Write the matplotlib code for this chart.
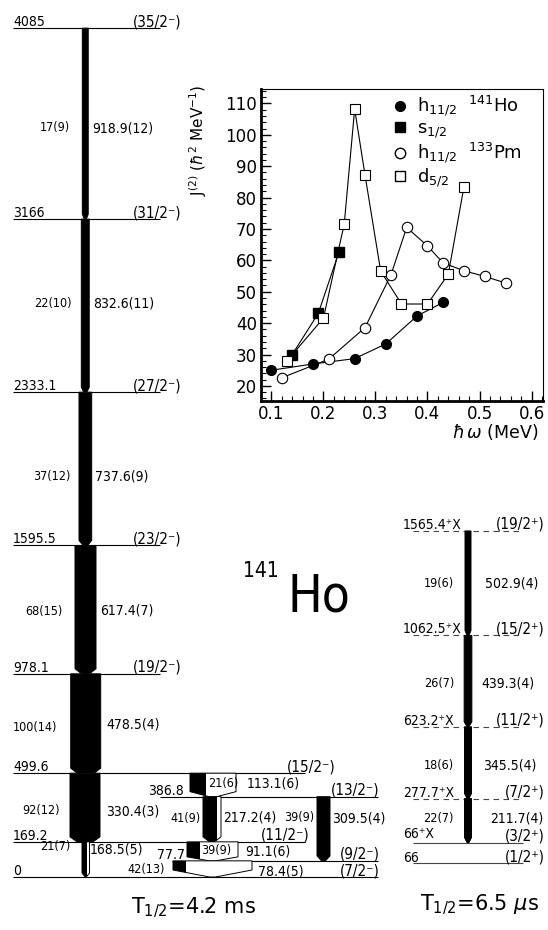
import matplotlib
matplotlib.use('Agg')
import matplotlib.pyplot as plt
from matplotlib.patches import Polygon, Rectangle
from matplotlib.lines import Line2D
from matplotlib.ticker import MultipleLocator

plt.rcParams['font.family'] = ['DejaVu Sans']

# ---- level scheme of 141Ho (keV) ----
lev_e = [0, 77.7, 169.2, 386.8, 499.6, 978.1, 1595.5, 2333.1, 3166, 4085]
lev_lbl = ['0', '77.7', '169.2', '386.8', '499.6', '978.1', '1595.5', '2333.1', '3166', '4085']
lev_spin = ['(7/2⁻)', '(9/2⁻)', '(11/2⁻)', '(13/2⁻)', '(15/2⁻)', '(19/2⁻)',
            '(23/2⁻)', '(27/2⁻)', '(31/2⁻)', '(35/2⁻)']

g_from = [4085, 3166, 2333.1, 1595.5, 978.1, 499.6, 169.2, 499.6, 386.8, 386.8, 169.2, 77.7]
g_to = [3166, 2333.1, 1595.5, 978.1, 499.6, 169.2, 0, 386.8, 169.2, 77.7, 77.7, 0]
g_lbl = ['918.9(12)', '832.6(11)', '737.6(9)', '617.4(7)', '478.5(4)', '330.4(3)',
         '168.5(5)', '113.1(6)', '217.2(4)', '309.5(4)', '91.1(6)', '78.4(5)']
g_int = ['17(9)', '22(10)', '37(12)', '68(15)', '100(14)', '92(12)',
         '21(7)', '21(6)', '41(9)', '39(9)', '39(9)', '42(13)']

# ---- band built on the 66 keV isomer (energies relative to 66+X) ----
band_e = [0, 211.7, 557.2, 996.5, 1499.4]
band_lbl = ['66⁺X', '277.7⁺X', '623.2⁺X', '1062.5⁺X', '1565.4⁺X']
band_spin = ['(3/2⁺)', '(7/2⁺)', '(11/2⁺)', '(15/2⁺)', '(19/2⁺)']
band_g = ['211.7(4)', '345.5(4)', '439.3(4)', '502.9(4)']
band_int = ['22(7)', '18(6)', '26(7)', '19(6)']
iso_e = 66

# ---- inset: J(2) vs hbar omega ----
hw_ho_h = [0.10, 0.18, 0.26, 0.32, 0.38, 0.43]
j2_ho_h = [25.0, 27.0, 28.7, 33.4, 42.3, 46.6]
hw_ho_s = [0.14, 0.19, 0.23]
j2_ho_s = [30.0, 43.1, 62.7]
hw_pm_h = [0.12, 0.21, 0.28, 0.33, 0.36, 0.40, 0.43, 0.47, 0.51, 0.55]
j2_pm_h = [22.6, 28.5, 38.6, 55.5, 70.5, 64.6, 59.2, 56.7, 54.9, 52.8]
hw_pm_d = [0.13, 0.20, 0.24, 0.26, 0.28, 0.31, 0.35, 0.40, 0.44, 0.47]
j2_pm_d = [28.0, 41.6, 71.6, 108.2, 87.1, 56.6, 46.1, 46.1, 55.6, 83.4]

PX = 0.2078   # pixels per keV
Y0 = 877      # pixel row of ground state
XOFF = 100    # drawing offset used for the unknown X


def ky(ypx):
    return (Y0 - ypx) / PX


def kh(hpx):
    return hpx / PX


def arrow(ax, xl, wb, ww, e_top, e_bot, tip_h, tip_w):
    xr = xl + wb + ww
    xc = (xl + xr) / 2
    verts = [(xl, e_top), (xr, e_top), (xr, e_bot + kh(tip_h)),
             (xc + tip_w / 2, e_bot), (xc - tip_w / 2, e_bot), (xl, e_bot + kh(tip_h))]
    poly = Polygon(verts, closed=True, facecolor='white', edgecolor='black', lw=0.7, zorder=3)
    ax.add_patch(poly)
    blk = Rectangle((xl - 1, e_bot), wb + 1, e_top - e_bot, facecolor='black',
                    edgecolor='none', zorder=4)
    ax.add_patch(blk)
    blk.set_clip_path(poly)


fig = plt.figure(figsize=(5.48, 9.30), dpi=100)
ax = fig.add_axes([0, 0, 1, 1])
ax.set_xlim(0, 548)
ax.set_ylim(ky(930), ky(0))
ax.axis('off')

fs_lev = 10
fs_spin = 11
fs_int = 9
cond = dict(fontstretch='condensed')

# level lines and labels
lev_x0 = [13, 172, 13, 160, 13, 13, 13, 13, 13, 13]
lev_x1 = [378, 378, 305, 378, 305, 160, 160, 160, 160, 160]
lev_tx = [13, 157, 13, 148, 13, 13, 13, 13, 13, 13]
spin_tx = [380, 380, 310, 380, 336, 182, 182, 182, 182, 182]
for i, e in enumerate(lev_e):
    ax.hlines(e, lev_x0[i], lev_x1[i], color='black', lw=0.8, zorder=2)
    ax.text(lev_tx[i], e + kh(2), lev_lbl[i], fontsize=fs_lev, ha='left', va='baseline', **cond)
    ax.text(spin_tx[i], e + kh(2), lev_spin[i], fontsize=fs_spin, ha='right', va='baseline', **cond)

# transitions: (left x, black width, white width, tip height, tip width)
shape = [(82.3, 6, 0, 5, 2), (81.3, 8, 0, 5, 3), (79, 12.7, 0, 5, 4.5),
         (75, 21, 0, 5, 8), (70.7, 30, 0, 5, 17), (70, 30, 0, 5, 16),
         (82, 5, 2.5, 4, 1), (190, 16, 30, 5, 8), (203, 14, 4, 5, 5),
         (317, 13, 0, 5, 4), (187, 13, 38, 4, 6), (173, 13, 66, 7, 6)]
int_pos = [(70, 128, 'right'), (72, 303, 'right'), (70, 476, 'right'), (63, 612, 'right'),
           (57, 727, 'right'), (60, 810, 'right'), (70, 846, 'right'), (208, 783, 'left'),
           (201, 818, 'right'), (314, 817, 'right'), (201, 850, 'left'), (165, 869, 'right')]
lbl_pos = [(92, 128), (93, 303), (95, 476), (100, 611), (106, 724), (106, 811),
           (90, 849), (247, 783), (223, 817), (332, 818), (245, 851), (258, 871)]
for i in range(len(g_lbl)):
    xl, wb, ww, th, tw = shape[i]
    arrow(ax, xl, wb, ww, g_from[i], g_to[i], th, tw)
    xi, yi, hi = int_pos[i]
    ax.text(xi, ky(yi), g_int[i], fontsize=fs_int, ha=hi, va='center', zorder=6, **cond)
    xg, yg = lbl_pos[i]
    ax.text(xg, ky(yg), g_lbl[i], fontsize=fs_lev, ha='left', va='center', zorder=6, **cond)

# isomer band
ax.hlines(iso_e, 413, 523, color='#444444', lw=0.8)
ax.text(403, iso_e + kh(1), '66', fontsize=fs_lev, ha='left', va='baseline', **cond)
ax.text(545, iso_e + kh(2), '(1/2⁺)', fontsize=fs_spin, ha='right', va='baseline', **cond)
for i, e in enumerate(band_e):
    ee = iso_e + XOFF + e
    ax.hlines(ee, 413, 523, color='#444444', lw=0.8, linestyles='solid' if i == 0 else (0, (5, 4)))
    ax.text(403, ee + kh(5 if i == 0 else 2), band_lbl[i], fontsize=fs_lev, ha='left', va='baseline', **cond)
    ax.text(545, ee + kh(2), band_spin[i], fontsize=fs_spin, ha='right', va='baseline', **cond)

band_w = [7, 7, 7.7, 6]
band_int_y = [818, 765, 683, 583]
band_g_x = [490, 483, 481, 485]
for i in range(len(band_g)):
    e_bot = iso_e + XOFF + band_e[i]
    e_top = iso_e + XOFF + band_e[i + 1]
    arrow(ax, 468 - band_w[i] / 2, band_w[i], 0, e_top, e_bot, 5, 2)
    ax.text(454, ky(band_int_y[i]), band_int[i], fontsize=fs_int, ha='right', va='center', zorder=6, **cond)
    ax.text(band_g_x[i], ky(band_int_y[i]), band_g[i], fontsize=fs_lev, ha='left', va='center', zorder=6, **cond)

ax.text(193, ky(913), r'T$_{1/2}$=4.2 ms', fontsize=15, ha='center', va='baseline')
ax.text(480, ky(910), r'T$_{1/2}$=6.5 $\mu$s', fontsize=15, ha='center', va='baseline')
ax.text(243, ky(577), '141', fontsize=15, ha='left', va='baseline', **cond)
ax.text(287, ky(612), 'Ho', fontsize=37, ha='left', va='baseline', **cond)

# ---- inset ----
axi = fig.add_axes([261 / 548, 1 - 401 / 930, 282 / 548, 312 / 930])
lw = 0.8
axi.plot(hw_ho_h, j2_ho_h, color='black', lw=lw, marker='o', ms=7, mfc='black', mec='black', zorder=3)
axi.plot(hw_ho_s, j2_ho_s, color='black', lw=lw, marker='s', ms=7, mfc='black', mec='black', zorder=3)
axi.plot(hw_pm_h, j2_pm_h, color='black', lw=lw, marker='o', ms=7.5, mfc='white', mec='black', mew=0.8, zorder=3)
axi.plot(hw_pm_d, j2_pm_d, color='black', lw=lw, marker='s', ms=7, mfc='white', mec='black', mew=0.8, zorder=3)
axi.set_xlim(0.08, 0.622)
axi.set_ylim(15.2, 114.6)
axi.set_xticks([0.1, 0.2, 0.3, 0.4, 0.5, 0.6], ['0.1', '0.2', '0.3', '0.4', '0.5', '0.6'])
axi.set_yticks(range(20, 111, 10))
axi.xaxis.set_minor_locator(MultipleLocator(0.02))
axi.yaxis.set_minor_locator(MultipleLocator(2))
axi.tick_params(which='both', direction='in', top=False, right=False, labelsize=12, pad=3)
axi.tick_params(which='major', length=7, width=1)
axi.tick_params(which='minor', length=3.5, width=0.8)
axi.spines['left'].set_linewidth(2)
axi.spines['bottom'].set_linewidth(2)
axi.spines['top'].set_linewidth(0.8)
axi.spines['right'].set_linewidth(0.8)
axi.text(-0.222, 0.835, r'J$^{(2)}$ ($\hbar^2$ MeV$^{-1}$)', transform=axi.transAxes,
         rotation=90, ha='center', va='center', fontsize=11)
axi.text(0.985, -0.1, r'$\hbar\,\omega$ (MeV)', transform=axi.transAxes,
         ha='right', va='center', fontsize=12.5)

handles = [
    Line2D([], [], ls='none', marker='o', ms=7, mfc='black', mec='black'),
    Line2D([], [], ls='none', marker='s', ms=7, mfc='black', mec='black'),
    Line2D([], [], ls='none', marker='o', ms=7.5, mfc='white', mec='black'),
    Line2D([], [], ls='none', marker='s', ms=7, mfc='white', mec='black'),
]
labels = [r'h$_{11/2}$  $^{141}$Ho', r's$_{1/2}$', r'h$_{11/2}$  $^{133}$Pm', r'd$_{5/2}$']
axi.legend(handles, labels, loc='upper left', bbox_to_anchor=(0.465, 0.985), frameon=False,
           fontsize=13, handlelength=0.9, handletextpad=0.5, labelspacing=0.05,
           borderpad=0, borderaxespad=0)

fig.savefig('out.png', dpi=100)
